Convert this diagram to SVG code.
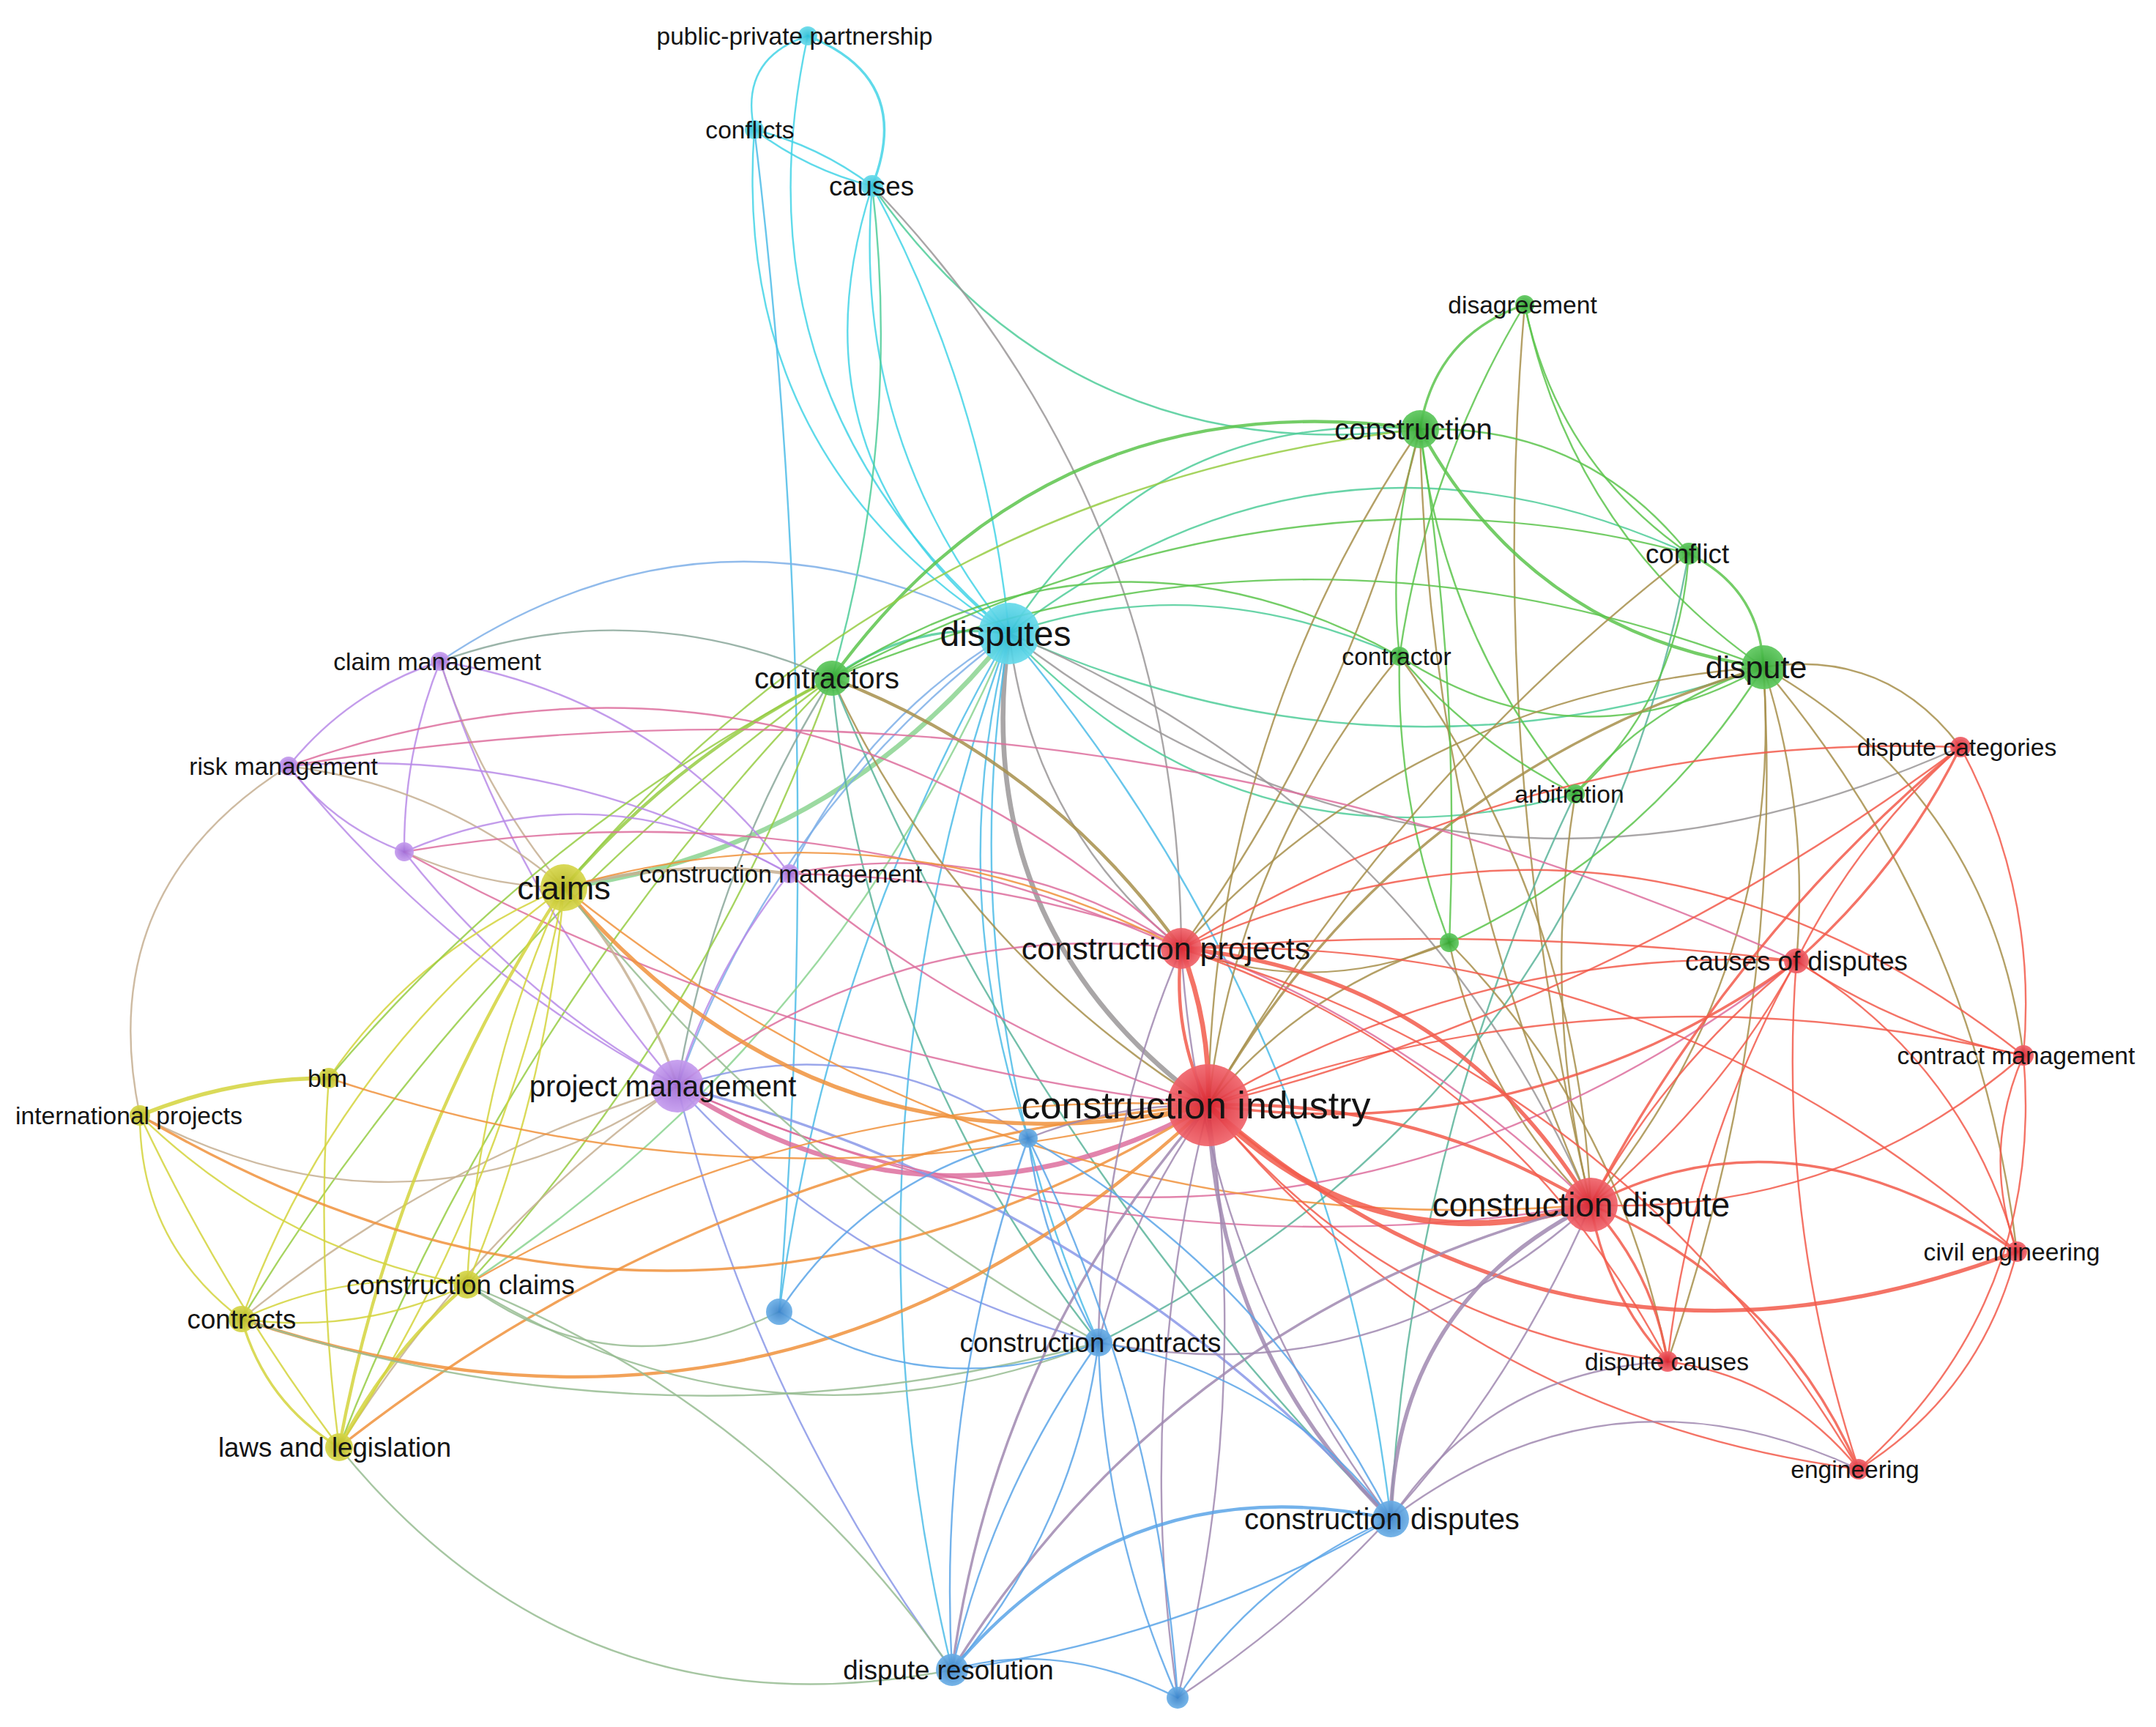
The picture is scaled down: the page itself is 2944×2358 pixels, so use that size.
<svg xmlns="http://www.w3.org/2000/svg" width="2944" height="2358" viewBox="0 0 2944 2358">
<defs>
<radialGradient id="gr"><stop offset="0" stop-color="#d8222e"/><stop offset="1" stop-color="#f0636a"/></radialGradient>
<radialGradient id="gg"><stop offset="0" stop-color="#2fa52f"/><stop offset="1" stop-color="#5cc75c"/></radialGradient>
<radialGradient id="gb"><stop offset="0" stop-color="#3a83c9"/><stop offset="1" stop-color="#6aaee6"/></radialGradient>
<radialGradient id="gy"><stop offset="0" stop-color="#b6b61c"/><stop offset="1" stop-color="#d6d64a"/></radialGradient>
<radialGradient id="gp"><stop offset="0" stop-color="#a06cd6"/><stop offset="1" stop-color="#c49bee"/></radialGradient>
<radialGradient id="gc"><stop offset="0" stop-color="#2cbdd6"/><stop offset="1" stop-color="#66daea"/></radialGradient>
<style>
.e path{fill:none;stroke-linecap:round;stroke-opacity:.85;stroke-width:2.4}
.r{stroke:#f25a4b}.g{stroke:#5cc44c}.b{stroke:#5aa5e8}.y{stroke:#d3d43c}.p{stroke:#b98be8}.c{stroke:#43d4e6}
.rg{stroke:#a78f4b}.rb{stroke:#a088b0}.ry{stroke:#f0923c}.rp{stroke:#dd6e9e}.rc{stroke:#9a9798}
.gb{stroke:#5bb49a}.gy{stroke:#97cc44}.gp{stroke:#8aa79a}.gc{stroke:#4fcc99}
.by{stroke:#96bc92}.bp{stroke:#8998e8}.bc{stroke:#4ebce7}.yp{stroke:#c6af92}.yc{stroke:#8bd491}.pc{stroke:#7eafe7}
.e .w3{stroke-width:3.4}.e .w4{stroke-width:4.4}.e .w5{stroke-width:5.4}.e .w6{stroke-width:6.6}.e .w7{stroke-width:8}
.n circle{fill-opacity:.92}
.nr{fill:url(#gr)}.ng{fill:url(#gg)}.nb{fill:url(#gb)}.ny{fill:url(#gy)}.np{fill:url(#gp)}.nc{fill:url(#gc)}
text{font-family:"Liberation Sans",Arial,sans-serif;fill:#141414;text-anchor:middle}
.f34{font-size:33.6px}.f37{font-size:36.7px}.f40{font-size:40px}.f43{font-size:43px}.f45{font-size:45px}.f46{font-size:45.7px}.f48{font-size:48px}.f52{font-size:52px}
</style>
</defs>
<rect width="2944" height="2358" fill="#ffffff"/>
<g id="connectors" class="e">
<path class="c w3" d="M1191 254 Q1249 107 1103 49"/>
<path class="c" d="M1103 49 Q1009 80 1030 177"/>
<path class="c" d="M1030 177 Q1103 232 1191 254"/>
<path class="c" d="M1030 177 Q1118 199 1191 254"/>
<path class="c" d="M1030 177 Q998 625 1378 865"/>
<path class="c" d="M1103 49 Q996 540 1378 865"/>
<path class="c" d="M1191 254 Q1162 597 1378 865"/>
<path class="c" d="M1378 865 Q1346 541 1191 254"/>
<path class="c" d="M1191 254 Q1071 625 1378 865"/>
<path class="bc" d="M1064 1791 Q1128 982 1030 177"/>
<path class="gc" d="M1191 254 Q1465 644 1939 586"/>
<path class="rc" d="M1613 1295 Q1610 690 1191 254"/>
<path class="gc" d="M1136 926 Q1231 596 1191 254"/>
<path class="gc w3" d="M1378 865 Q1245 847 1136 926"/>
<path class="gc" d="M1939 586 Q1575 557 1378 865"/>
<path class="gc" d="M2306 756 Q1809 532 1378 865"/>
<path class="gc" d="M1378 865 Q1884 1094 2408 911"/>
<path class="gc" d="M1911 896 Q1638 774 1378 865"/>
<path class="gc" d="M1378 865 Q1699 1206 2151 1084"/>
<path class="rc w6" d="M1378 865 Q1321 1269 1650 1509"/>
<path class="rc" d="M1378 865 Q1409 1127 1613 1295"/>
<path class="rc" d="M2172 1645 Q1931 1096 1378 865"/>
<path class="yc w6" d="M770 1212 Q1143 1160 1378 865"/>
<path class="pc" d="M1378 865 Q978 651 601 903"/>
<path class="pc" d="M1378 865 Q1059 1106 925 1483"/>
<path class="pc" d="M1378 865 Q1179 984 1078 1193"/>
<path class="bc" d="M1378 865 Q1294 1367 1500 1833"/>
<path class="bc" d="M1899 2074 Q1820 1391 1378 865"/>
<path class="bc" d="M1378 865 Q1127 1561 1300 2280"/>
<path class="bc" d="M1378 865 Q1288 1213 1404 1554"/>
<path class="bc" d="M1378 865 Q1128 1297 1064 1791"/>
<path class="rc" d="M1378 865 Q1981 1332 2677 1020"/>
<path class="yc" d="M638 1754 Q1141 1421 1378 865"/>
<path class="g w3" d="M2082 416 Q1960 458 1939 586"/>
<path class="g" d="M2082 416 Q1948 639 1911 896"/>
<path class="g" d="M2082 416 Q2126 631 2306 756"/>
<path class="g" d="M2082 416 Q2146 729 2408 911"/>
<path class="rg" d="M2082 416 Q2029 1038 2172 1645"/>
<path class="g w4" d="M1939 586 Q2092 866 2408 911"/>
<path class="g" d="M2306 756 Q2165 579 1939 586"/>
<path class="g" d="M1939 586 Q1894 738 1911 896"/>
<path class="g" d="M1939 586 Q1970 867 2151 1084"/>
<path class="g w4" d="M1939 586 Q1435 515 1136 926"/>
<path class="gy" d="M1939 586 Q1229 665 770 1212"/>
<path class="rg" d="M1939 586 Q1656 1004 1650 1509"/>
<path class="rg" d="M1613 1295 Q1847 973 1939 586"/>
<path class="rg" d="M1939 586 Q1950 1139 2172 1645"/>
<path class="gb" d="M1500 1833 Q2172 1496 2306 756"/>
<path class="g w3" d="M2408 911 Q2403 803 2306 756"/>
<path class="g" d="M2151 1084 Q2294 951 2306 756"/>
<path class="g" d="M2306 756 Q1755 607 1136 926"/>
<path class="g" d="M2408 911 Q1769 664 1136 926"/>
<path class="g" d="M1911 896 Q2155 1053 2408 911"/>
<path class="g" d="M2408 911 Q2253 959 2151 1084"/>
<path class="rg" d="M2677 1020 Q2575 885 2408 911"/>
<path class="rg" d="M2763 1441 Q2718 1087 2408 911"/>
<path class="rg" d="M2754 1709 Q2701 1258 2408 911"/>
<path class="rg" d="M2172 1645 Q2437 1325 2408 911"/>
<path class="rg w3" d="M2408 911 Q1909 1058 1650 1509"/>
<path class="rg" d="M2453 1312 Q2471 1107 2408 911"/>
<path class="rg" d="M2408 911 Q1934 944 1613 1295"/>
<path class="g" d="M1911 896 Q2012 1014 2151 1084"/>
<path class="g" d="M1911 896 Q1515 679 1136 926"/>
<path class="g" d="M1911 896 Q1906 1098 1979 1287"/>
<path class="rg" d="M2172 1645 Q2154 1231 1911 896"/>
<path class="rg" d="M2151 1084 Q2105 1367 2172 1645"/>
<path class="gb" d="M2151 1084 Q1926 1554 1899 2074"/>
<path class="gy w4" d="M1136 926 Q924 1032 770 1212"/>
<path class="gp" d="M1136 926 Q975 1183 925 1483"/>
<path class="rg w4" d="M1613 1295 Q1430 1039 1136 926"/>
<path class="rg" d="M1136 926 Q1306 1295 1650 1509"/>
<path class="gb" d="M1136 926 Q1182 1434 1500 1833"/>
<path class="gb" d="M1136 926 Q1403 1576 1899 2074"/>
<path class="gy" d="M1136 926 Q695 1384 463 1976"/>
<path class="gy" d="M1136 926 Q646 1283 330 1801"/>
<path class="gy" d="M638 1754 Q970 1390 1136 926"/>
<path class="gp" d="M1136 926 Q864 808 601 903"/>
<path class="rg" d="M1979 1287 Q1781 1349 1650 1509"/>
<path class="rg" d="M1613 1295 Q1798 1364 1979 1287"/>
<path class="rg" d="M1979 1287 Q2022 1495 2172 1645"/>
<path class="g" d="M1979 1287 Q1994 935 1939 586"/>
<path class="g" d="M1979 1287 Q2250 1163 2408 911"/>
<path class="rg" d="M2277 1859 Q2214 1528 1979 1287"/>
<path class="rg" d="M2277 1859 Q2437 1398 2408 911"/>
<path class="p" d="M601 903 Q476 944 394 1046"/>
<path class="p" d="M601 903 Q551 1028 552 1163"/>
<path class="yp" d="M601 903 Q655 1075 770 1212"/>
<path class="p" d="M601 903 Q705 1225 925 1483"/>
<path class="p" d="M1078 1193 Q898 953 601 903"/>
<path class="yp" d="M394 1046 Q126 1214 191 1523"/>
<path class="p" d="M394 1046 Q456 1128 552 1163"/>
<path class="yp" d="M770 1212 Q607 1073 394 1046"/>
<path class="p" d="M394 1046 Q616 1318 925 1483"/>
<path class="p" d="M1078 1193 Q758 1017 394 1046"/>
<path class="rp" d="M1613 1295 Q1078 805 394 1046"/>
<path class="rp" d="M2453 1312 Q1464 870 394 1046"/>
<path class="yp" d="M552 1163 Q656 1210 770 1212"/>
<path class="p" d="M552 1163 Q707 1360 925 1483"/>
<path class="p" d="M1078 1193 Q823 1047 552 1163"/>
<path class="rp" d="M1613 1295 Q1103 1070 552 1163"/>
<path class="rp" d="M552 1163 Q1066 1446 1650 1509"/>
<path class="yp w4" d="M1078 1193 Q922 1172 770 1212"/>
<path class="p" d="M1078 1193 Q973 1323 925 1483"/>
<path class="rp" d="M1613 1295 Q1366 1137 1078 1193"/>
<path class="rp" d="M1078 1193 Q1332 1408 1650 1509"/>
<path class="rp" d="M2172 1645 Q1715 1200 1078 1193"/>
<path class="yp w3" d="M925 1483 Q875 1332 770 1212"/>
<path class="rp w6" d="M925 1483 Q1280 1714 1650 1509"/>
<path class="rp" d="M1613 1295 Q1231 1251 925 1483"/>
<path class="rp" d="M925 1483 Q1524 1751 2172 1645"/>
<path class="bp" d="M925 1483 Q1160 1744 1500 1833"/>
<path class="bp w3" d="M1899 2074 Q1501 1632 925 1483"/>
<path class="bp" d="M925 1483 Q1033 1919 1300 2280"/>
<path class="bp" d="M1404 1554 Q1182 1399 925 1483"/>
<path class="yp" d="M191 1523 Q570 1723 925 1483"/>
<path class="yp" d="M925 1483 Q596 1583 330 1801"/>
<path class="yp" d="M925 1483 Q645 1684 463 1976"/>
<path class="rp" d="M925 1483 Q1740 1856 2453 1312"/>
<path class="y" d="M770 1212 Q571 1294 449 1472"/>
<path class="y" d="M770 1212 Q650 1470 638 1754"/>
<path class="y" d="M638 1754 Q747 1494 770 1212"/>
<path class="y" d="M770 1212 Q462 1441 330 1801"/>
<path class="y w4" d="M770 1212 Q540 1563 463 1976"/>
<path class="y" d="M463 1976 Q693 1625 770 1212"/>
<path class="ry w5" d="M770 1212 Q1121 1625 1650 1509"/>
<path class="ry" d="M1613 1295 Q1208 1085 770 1212"/>
<path class="ry" d="M770 1212 Q1384 1709 2172 1645"/>
<path class="by" d="M770 1212 Q1073 1596 1500 1833"/>
<path class="y w5" d="M449 1472 Q315 1472 191 1523"/>
<path class="y" d="M449 1472 Q431 1725 463 1976"/>
<path class="gy" d="M1136 926 Q738 1130 449 1472"/>
<path class="ry" d="M449 1472 Q1044 1671 1650 1509"/>
<path class="y" d="M191 1523 Q191 1697 330 1801"/>
<path class="y" d="M191 1523 Q304 1763 463 1976"/>
<path class="y" d="M191 1523 Q380 1706 638 1754"/>
<path class="ry w3" d="M191 1523 Q925 1954 1650 1509"/>
<path class="y" d="M638 1754 Q477 1732 330 1801"/>
<path class="y" d="M330 1801 Q491 1823 638 1754"/>
<path class="y w4" d="M638 1754 Q529 1848 463 1976"/>
<path class="ry" d="M1650 1509 Q1107 1480 638 1754"/>
<path class="ry w3" d="M1650 1509 Q987 1565 463 1976"/>
<path class="y w3" d="M330 1801 Q362 1915 463 1976"/>
<path class="ry w4" d="M330 1801 Q1078 2051 1650 1509"/>
<path class="by" d="M330 1801 Q910 1993 1500 1833"/>
<path class="by" d="M638 1754 Q840 1901 1064 1791"/>
<path class="by" d="M1300 2280 Q1048 1918 638 1754"/>
<path class="by" d="M638 1754 Q1049 2009 1500 1833"/>
<path class="by" d="M463 1976 Q791 2379 1300 2280"/>
<path class="r w6" d="M1650 1509 Q1653 1398 1613 1295"/>
<path class="r w4" d="M1613 1295 Q1600 1408 1650 1509"/>
<path class="r w7" d="M1650 1509 Q1870 1734 2172 1645"/>
<path class="r w4" d="M2172 1645 Q1931 1499 1650 1509"/>
<path class="r w5" d="M1650 1509 Q2142 1940 2754 1709"/>
<path class="r w3" d="M1650 1509 Q2091 1571 2453 1312"/>
<path class="r" d="M2453 1312 Q2022 1290 1650 1509"/>
<path class="r" d="M2763 1441 Q2197 1308 1650 1509"/>
<path class="r" d="M1650 1509 Q1894 1809 2277 1859"/>
<path class="r" d="M1650 1509 Q1995 1935 2538 2006"/>
<path class="rb w5" d="M1650 1509 Q1662 1842 1899 2074"/>
<path class="rb w3" d="M1650 1509 Q1359 1842 1300 2280"/>
<path class="rb" d="M1650 1509 Q1548 1910 1608 2318"/>
<path class="rb" d="M1608 2318 Q1710 1918 1650 1509"/>
<path class="rb" d="M1650 1509 Q1543 1656 1500 1833"/>
<path class="rb" d="M1650 1509 Q1523 1507 1404 1554"/>
<path class="r" d="M1650 1509 Q2213 1367 2677 1020"/>
<path class="rg" d="M1911 896 Q1689 1164 1650 1509"/>
<path class="rg" d="M2306 756 Q1903 1067 1650 1509"/>
<path class="r w5" d="M2172 1645 Q1980 1330 1613 1295"/>
<path class="r" d="M2453 1312 Q2034 1262 1613 1295"/>
<path class="r" d="M2763 1441 Q2232 1023 1613 1295"/>
<path class="r" d="M2277 1859 Q2058 1444 1613 1295"/>
<path class="r" d="M2538 2006 Q2218 1466 1613 1295"/>
<path class="r" d="M2677 1020 Q2104 998 1613 1295"/>
<path class="r" d="M2754 1709 Q2267 1274 1613 1295"/>
<path class="rb" d="M1613 1295 Q1639 1728 1899 2074"/>
<path class="rb" d="M1613 1295 Q1503 1553 1500 1833"/>
<path class="r w3" d="M2754 1709 Q2444 1502 2172 1645"/>
<path class="r" d="M2172 1645 Q2346 1507 2453 1312"/>
<path class="r" d="M2172 1645 Q2279 1450 2453 1312"/>
<path class="r" d="M2172 1645 Q2509 1661 2763 1441"/>
<path class="r w3" d="M2172 1645 Q2193 1768 2277 1859"/>
<path class="r w3" d="M2172 1645 Q2257 1736 2277 1859"/>
<path class="r w3" d="M2538 2006 Q2427 1753 2172 1645"/>
<path class="r w3" d="M2677 1020 Q2362 1282 2172 1645"/>
<path class="rb w5" d="M2172 1645 Q1907 1778 1899 2074"/>
<path class="rb w3" d="M2172 1645 Q1609 1788 1300 2280"/>
<path class="rb" d="M1608 2318 Q1991 2066 2172 1645"/>
<path class="rb" d="M1500 1833 Q1883 1907 2172 1645"/>
<path class="r" d="M2453 1312 Q2595 1408 2763 1441"/>
<path class="r" d="M2754 1709 Q2683 1451 2453 1312"/>
<path class="r" d="M2453 1312 Q2310 1568 2277 1859"/>
<path class="r" d="M2453 1312 Q2426 1668 2538 2006"/>
<path class="r w3" d="M2453 1312 Q2594 1188 2677 1020"/>
<path class="r" d="M2453 1312 Q2536 1144 2677 1020"/>
<path class="r" d="M2763 1441 Q2705 1573 2754 1709"/>
<path class="r" d="M2538 2006 Q2792 1780 2763 1441"/>
<path class="r" d="M2763 1441 Q2783 1218 2677 1020"/>
<path class="r" d="M2538 2006 Q2705 1901 2754 1709"/>
<path class="r" d="M2538 2006 Q2437 1881 2277 1859"/>
<path class="rb" d="M2277 1859 Q2034 1872 1899 2074"/>
<path class="rb" d="M2538 2006 Q2199 1848 1899 2074"/>
<path class="b" d="M1404 1554 Q1279 1907 1300 2280"/>
<path class="b" d="M1404 1554 Q1424 1703 1500 1833"/>
<path class="b" d="M1899 2074 Q1730 1740 1404 1554"/>
<path class="b" d="M1064 1791 Q1272 1921 1500 1833"/>
<path class="b" d="M1404 1554 Q1187 1605 1064 1791"/>
<path class="b" d="M1899 2074 Q1748 1874 1500 1833"/>
<path class="b" d="M1500 1833 Q1355 2037 1300 2280"/>
<path class="b" d="M1500 1833 Q1467 2087 1300 2280"/>
<path class="b" d="M1500 1833 Q1506 2087 1608 2318"/>
<path class="b w4" d="M1899 2074 Q1538 1997 1300 2280"/>
<path class="b" d="M1300 2280 Q1620 2237 1899 2074"/>
<path class="b" d="M1899 2074 Q1717 2152 1608 2318"/>
<path class="b" d="M1608 2318 Q1446 2237 1300 2280"/>
<path class="b" d="M1608 2318 Q1582 1916 1404 1554"/>
</g>
<g id="node-unlabeled-green" class="n"><circle class="ng" cx="1979" cy="1287" r="13"/></g>
<g id="node-unlabeled-purple" class="n"><circle class="np" cx="552" cy="1163" r="13"/></g>
<g id="node-unlabeled-blue-1" class="n"><circle class="nb" cx="1404" cy="1554" r="13"/></g>
<g id="node-unlabeled-blue-2" class="n"><circle class="nb" cx="1064" cy="1791" r="18"/></g>
<g id="node-unlabeled-blue-3" class="n"><circle class="nb" cx="1608" cy="2318" r="15"/></g>
<g id="node-public-private-partnership" class="n"><circle class="nc" cx="1103" cy="49" r="13"/><text class="f34" x="1085" y="49" dy="0.35em">public-private partnership</text></g>
<g id="node-conflicts" class="n"><circle class="nc" cx="1030" cy="177" r="13"/><text class="f34" x="1024" y="177" dy="0.35em">conflicts</text></g>
<g id="node-causes" class="n"><circle class="nc" cx="1191" cy="254" r="15"/><text class="f37" x="1190" y="254" dy="0.35em">causes</text></g>
<g id="node-disagreement" class="n"><circle class="ng" cx="2082" cy="416" r="13"/><text class="f34" x="2079" y="416" dy="0.35em">disagreement</text></g>
<g id="node-construction" class="n"><circle class="ng" cx="1939" cy="586" r="26"/><text class="f40" x="1930" y="586" dy="0.35em">construction</text></g>
<g id="node-conflict" class="n"><circle class="ng" cx="2306" cy="756" r="15"/><text class="f37" x="2304" y="756" dy="0.35em">conflict</text></g>
<g id="node-contractor" class="n"><circle class="ng" cx="1911" cy="896" r="13"/><text class="f34" x="1907" y="896" dy="0.35em">contractor</text></g>
<g id="node-dispute" class="n"><circle class="ng" cx="2408" cy="911" r="30"/><text class="f43" x="2398" y="911" dy="0.35em">dispute</text></g>
<g id="node-arbitration" class="n"><circle class="ng" cx="2151" cy="1084" r="13"/><text class="f34" x="2143" y="1084" dy="0.35em">arbitration</text></g>
<g id="node-contractors" class="n"><circle class="ng" cx="1136" cy="926" r="24"/><text class="f40" x="1129" y="926" dy="0.35em">contractors</text></g>
<g id="node-disputes" class="n"><circle class="nc" cx="1378" cy="865" r="42"/><text class="f48" x="1373" y="865" dy="0.35em">disputes</text></g>
<g id="node-claim-management" class="n"><circle class="np" cx="601" cy="903" r="13"/><text class="f34" x="597" y="903" dy="0.35em">claim management</text></g>
<g id="node-risk-management" class="n"><circle class="np" cx="394" cy="1046" r="13"/><text class="f34" x="387" y="1046" dy="0.35em">risk management</text></g>
<g id="node-construction-management" class="n"><circle class="np" cx="1078" cy="1193" r="13"/><text class="f34" x="1066" y="1193" dy="0.35em">construction management</text></g>
<g id="node-claims" class="n"><circle class="ny" cx="770" cy="1212" r="32"/><text class="f45" x="770" y="1212" dy="0.35em">claims</text></g>
<g id="node-bim" class="n"><circle class="ny" cx="449" cy="1472" r="14"/><text class="f34" x="447" y="1472" dy="0.35em">bim</text></g>
<g id="node-international-projects" class="n"><circle class="ny" cx="191" cy="1523" r="14"/><text class="f34" x="176" y="1523" dy="0.35em">international projects</text></g>
<g id="node-project-management" class="n"><circle class="np" cx="925" cy="1483" r="36"/><text class="f40" x="905" y="1483" dy="0.35em">project management</text></g>
<g id="node-construction-claims" class="n"><circle class="ny" cx="638" cy="1754" r="19"/><text class="f37" x="629" y="1754" dy="0.35em">construction claims</text></g>
<g id="node-contracts" class="n"><circle class="ny" cx="330" cy="1801" r="18"/><text class="f37" x="330" y="1801" dy="0.35em">contracts</text></g>
<g id="node-laws-and-legislation" class="n"><circle class="ny" cx="463" cy="1976" r="19"/><text class="f37" x="457" y="1976" dy="0.35em">laws and legislation</text></g>
<g id="node-dispute-categories" class="n"><circle class="nr" cx="2677" cy="1020" r="14"/><text class="f34" x="2672" y="1020" dy="0.35em">dispute categories</text></g>
<g id="node-construction-projects" class="n"><circle class="nr" cx="1613" cy="1295" r="28"/><text class="f43" x="1592" y="1295" dy="0.35em">construction projects</text></g>
<g id="node-causes-of-disputes" class="n"><circle class="nr" cx="2453" cy="1312" r="17"/><text class="f37" x="2453" y="1312" dy="0.35em">causes of disputes</text></g>
<g id="node-contract-management" class="n"><circle class="nr" cx="2763" cy="1441" r="14"/><text class="f34" x="2753" y="1441" dy="0.35em">contract management</text></g>
<g id="node-construction-industry" class="n"><circle class="nr" cx="1650" cy="1509" r="56"/><text class="f52" x="1633" y="1509" dy="0.35em">construction industry</text></g>
<g id="node-construction-dispute" class="n"><circle class="nr" cx="2172" cy="1645" r="37"/><text class="f46" x="2159" y="1645" dy="0.35em">construction dispute</text></g>
<g id="node-civil-engineering" class="n"><circle class="nr" cx="2754" cy="1709" r="14"/><text class="f34" x="2747" y="1709" dy="0.35em">civil engineering</text></g>
<g id="node-dispute-causes" class="n"><circle class="nr" cx="2277" cy="1859" r="14"/><text class="f34" x="2276" y="1859" dy="0.35em">dispute causes</text></g>
<g id="node-engineering" class="n"><circle class="nr" cx="2538" cy="2006" r="14"/><text class="f34" x="2533" y="2006" dy="0.35em">engineering</text></g>
<g id="node-construction-contracts" class="n"><circle class="nb" cx="1500" cy="1833" r="19"/><text class="f37" x="1489" y="1833" dy="0.35em">construction contracts</text></g>
<g id="node-construction-disputes" class="n"><circle class="nb" cx="1899" cy="2074" r="25"/><text class="f40" x="1887" y="2074" dy="0.35em">construction disputes</text></g>
<g id="node-dispute-resolution" class="n"><circle class="nb" cx="1300" cy="2280" r="22"/><text class="f37" x="1295" y="2280" dy="0.35em">dispute resolution</text></g>
</svg>
